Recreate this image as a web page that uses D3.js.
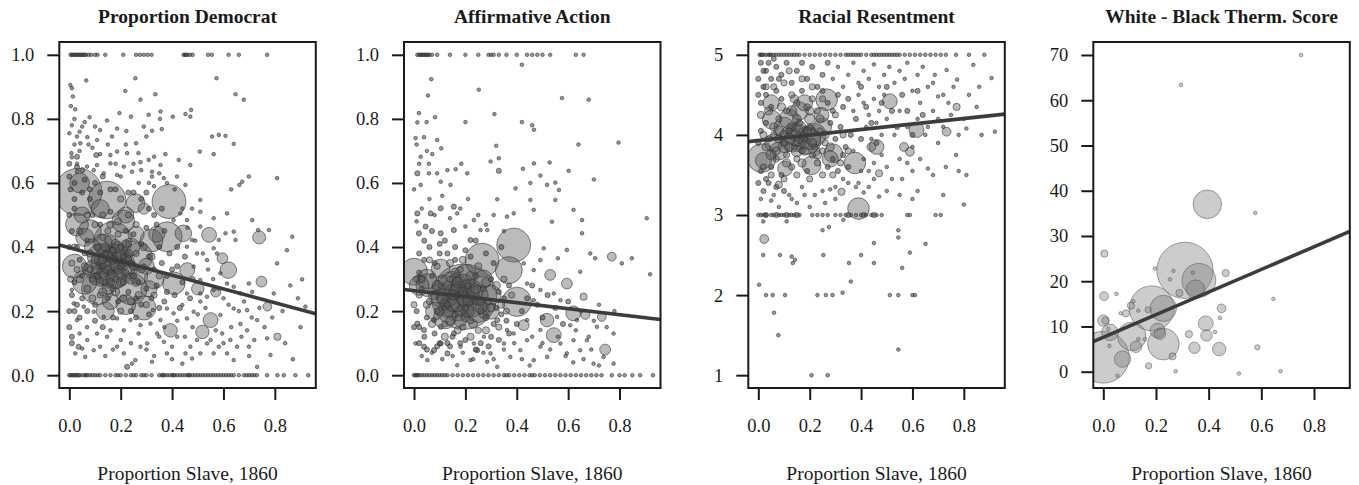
<!DOCTYPE html>
<html><head><meta charset="utf-8">
<script src="https://cdn.jsdelivr.net/npm/d3@7"></script>
<style>
html,body{margin:0;padding:0;background:#fff;}
svg{display:block;}
text{font-family:"Liberation Serif","Times New Roman",serif;fill:#1a1a1a;}
</style></head>
<body>
<script>
// ---------------- DATA ----------------
const titles = ["Proportion Democrat", "Affirmative Action", "Racial Resentment", "White - Black Therm. Score"];
const xLabel = "Proportion Slave, 1860";
const xTicks = [0, 0.2, 0.4, 0.6, 0.8];
const yTicksDem = [0, 0.2, 0.4, 0.6, 0.8, 1.0];
const yTicksAA = [0, 0.2, 0.4, 0.6, 0.8, 1.0];
const yTicksRR = [1, 2, 3, 4, 5];
const yTicksTherm = [0, 10, 20, 30, 40, 50, 60, 70];
// fitted lines [intercept, slope]
const fitDem = [0.398, -0.215];
const fitAA = [0.264, -0.094];
const fitRR = [3.93, 0.343];
const fitTherm = [7.6, 25.0];

// Proportion Democrat: counties at exactly 1 and 0 (x values), then [x, y, weight]
const demOne = [0.005,0.01,0.015,0.02,0.025,0.03,0.035,0.04,0.045,0.05,0.055,0.06,0.065,0.075,0.085,0.10,0.11,0.14,0.21,0.26,0.275,0.29,0.305,0.32,0.445,0.45,0.455,0.46,0.47,0.48,0.54,0.555,0.62,0.66,0.77];
const demZero = [0.0,0.005,0.01,0.015,0.02,0.025,0.03,0.035,0.04,0.05,0.06,0.065,0.07,0.08,0.09,0.10,0.11,0.12,0.14,0.16,0.18,0.19,0.20,0.22,0.24,0.25,0.26,0.28,0.29,0.30,0.32,0.35,0.36,0.365,0.37,0.38,0.39,0.40,0.405,0.41,0.42,0.43,0.44,0.45,0.46,0.465,0.47,0.48,0.49,0.50,0.51,0.52,0.53,0.54,0.55,0.56,0.57,0.58,0.59,0.60,0.61,0.62,0.63,0.64,0.66,0.68,0.69,0.70,0.71,0.72,0.73,0.77,0.81,0.835,0.88,0.93];
const demPts = [
[0.035,0.572,172],[0.147,0.547,108],[0.388,0.542,88],[0.258,0.537,27],[0.29,0.52,10],
[0.17,0.42,110],[0.17,0.34,150],[0.11,0.27,80],[0.24,0.27,80],[0.29,0.21,45],[0.06,0.29,45],[0.02,0.34,45],
[0.381,0.432,69],[0.407,0.287,39],[0.32,0.42,40],[0.27,0.37,60],[0.08,0.45,40],[0.03,0.47,40],[0.21,0.48,40],
[0.12,0.37,50],[0.22,0.22,30],[0.14,0.2,25],[0.33,0.3,30],[0.459,0.328,17],[0.5,0.27,12],[0.57,0.26,8],
[0.444,0.443,21],[0.544,0.438,17],[0.739,0.43,13],[0.596,0.365,9],[0.619,0.328,21],[0.748,0.292,9],
[0.771,0.214,6],[0.81,0.12,4],[0.55,0.172,17],[0.518,0.135,14],[0.394,0.14,14],
[0.19,0.38,30],[0.14,0.31,30],[0.23,0.33,25],[0.09,0.4,20],[0.05,0.5,20],[0.26,0.44,20],[0.3,0.34,20],
[0.15,0.35,40],[0.2,0.36,35],[0.13,0.41,30],[0.18,0.3,30],[0.24,0.4,25],[0.09,0.33,25],[0.06,0.43,25],[0.27,0.31,25],
[0.31,0.27,20],[0.22,0.5,20],[0.12,0.52,25],[0.04,0.6,30],[0.16,0.23,20],[0.34,0.44,20],
[0.14,0.34,12],[0.18,0.34,12],[0.16,0.38,12],[0.2,0.32,10],[0.12,0.36,10],[0.16,0.42,10],[0.22,0.36,10],[0.1,0.3,10],
[0.15,0.27,10],[0.19,0.4,10],[0.24,0.3,8],[0.07,0.33,8],
[0.004,0.906,1],[0.01,0.896,1],[0.014,0.87,1],[0.066,0.92,1],[0.257,0.927,1],[0.573,0.927,1],[0.647,0.877,1],[0.679,0.86,1],
[0.218,0.887,1],[0.277,0.86,1],[0.335,0.877,1],[0.006,0.84,1],[0.023,0.83,1],[0.079,0.805,1],[0.195,0.818,1],[0.24,0.807,1],
[0.309,0.813,1],[0.355,0.823,1],[0.353,0.80,1],[0.403,0.807,1],[0.452,0.815,1],[0.474,0.828,1],[0.471,0.807,1],
[0.01,0.78,1],[0.05,0.776,1],[0.10,0.776,1],[0.147,0.795,1],[0.12,0.765,1],[0.186,0.77,1],[0.222,0.762,1],[0.29,0.776,1],
[0.322,0.763,1],[0.36,0.768,1],[0.0,0.755,1],[0.03,0.745,1],[0.07,0.743,1],[0.043,0.724,1],[0.075,0.72,1],[0.108,0.734,1],
[0.166,0.745,1],[0.26,0.724,1],[0.30,0.745,1],[0.556,0.745,1],[0.582,0.75,1],[0.608,0.747,1],[0.64,0.722,1],
[0.008,0.693,1],[0.03,0.682,2],[0.105,0.687,2],[0.16,0.687,1],[0.186,0.698,1],[0.225,0.693,1],[0.269,0.693,1],[0.33,0.682,1],
[0.374,0.69,1],[0.508,0.698,1],[0.562,0.69,1],[0.03,0.66,1],[0.069,0.651,1],[0.108,0.656,1],[0.16,0.661,1],[0.212,0.651,1],
[0.277,0.665,1],[0.309,0.672,1],[0.355,0.656,1],[0.426,0.672,1],[0.471,0.656,1],[0.03,0.635,1],[0.095,0.64,1],[0.134,0.63,1],
[0.186,0.625,1],[0.244,0.635,1],[0.322,0.635,1],[0.322,0.62,1],[0.368,0.615,1],[0.419,0.62,1],[0.699,0.62,1],[0.673,0.604,1],
[0.809,0.615,1],[0.662,0.594,1],[0.63,0.58,1],[0.452,0.594,1],[0.51,0.547,1],[0.478,0.52,1],[0.51,0.51,1],[0.712,0.484,1],
[0.735,0.453,1],[0.777,0.453,1],[0.868,0.432,1],[0.847,0.39,1],[0.809,0.349,1],[0.906,0.299,1],[0.919,0.214,1],[0.796,0.255,1],
[0.699,0.286,1],[0.712,0.26,1],[0.64,0.448,1],[0.647,0.422,1],[0.582,0.422,1],[0.562,0.396,1],[0.608,0.443,1],
[0.01,0.1,2],[0.036,0.089,2],[0.05,0.083,1],[0.023,0.068,1],[0.062,0.057,1],[0.095,0.078,1],[0.12,0.089,1],[0.108,0.13,1],
[0.147,0.12,1],[0.16,0.14,1],[0.069,0.15,1],[0.03,0.172,1],[0.186,0.089,1],[0.212,0.068,1],[0.225,0.026,2],[0.244,0.036,1],
[0.257,0.047,1],[0.277,0.089,1],[0.303,0.099,1],[0.322,0.042,1],[0.342,0.13,1],[0.368,0.104,1],[0.38,0.068,1],[0.4,0.089,1],
[0.42,0.12,1],[0.44,0.036,1],[0.452,0.068,1],[0.471,0.089,1],[0.478,0.052,1],[0.497,0.11,1],[0.51,0.068,1],[0.536,0.099,1],
[0.562,0.068,1],[0.582,0.089,1],[0.595,0.13,1],[0.614,0.068,1],[0.627,0.11,1],[0.64,0.047,1],[0.653,0.089,1],[0.666,0.16,1],
[0.692,0.14,1],[0.699,0.089,1],[0.731,0.026,1],[0.731,0.172,1],[0.77,0.115,1],[0.783,0.063,1],[0.692,0.203,1],[0.64,0.208,1],
[0.588,0.188,1],[0.51,0.23,1],[0.484,0.198,1],[0.458,0.177,1],[0.44,0.219,1],[0.406,0.193,1],[0.38,0.208,1],[0.355,0.172,1],
[0.325,0.203,1],[0.316,0.161,1],[0.277,0.156,1],[0.238,0.172,1],[0.212,0.14,1],[0.186,0.177,1],[0.134,0.182,1],[0.095,0.198,1],
[0.056,0.214,1],[0.017,0.224,1],[0.01,0.266,1],[0.562,0.266,1],[0.51,0.255,1],[0.536,0.245,1],[0.458,0.255,1],[0.614,0.286,1],
[0.64,0.276,1],[0.666,0.255,1],[0.588,0.318,1],[0.51,0.297,1],[0.484,0.339,1],[0.536,0.359,1],[0.575,0.38,1],[0.497,0.38,1],
[0.458,0.401,1],[0.478,0.422,1],[0.51,0.464,1],[0.562,0.49,1],[0.614,0.505,1],[0.458,0.484,1],[0.432,0.505,1],[0.406,0.484,1],
[0.0,0.5,2],[0.01,0.45,2],[0.02,0.52,2],[0.03,0.4,2],[0.04,0.36,2],[0.05,0.31,2],[0.01,0.25,2],[0.02,0.29,2],[0.03,0.22,2],
[0.05,0.24,2],[0.06,0.38,2],[0.07,0.42,2],[0.08,0.33,3],[0.09,0.3,3],[0.09,0.5,2],[0.1,0.22,2],[0.11,0.4,3],[0.11,0.31,3],
[0.12,0.25,3],[0.12,0.47,2],[0.13,0.34,3],[0.13,0.43,3],[0.14,0.29,3],[0.14,0.38,3],[0.15,0.24,2],[0.15,0.45,3],[0.16,0.32,3],
[0.16,0.51,2],[0.17,0.27,3],[0.17,0.39,3],[0.18,0.36,3],[0.18,0.3,3],[0.19,0.44,3],[0.19,0.23,2],[0.2,0.34,3],[0.2,0.4,3],
[0.21,0.29,3],[0.21,0.37,3],[0.22,0.32,3],[0.22,0.45,2],[0.23,0.26,2],[0.23,0.41,3],[0.24,0.35,3],[0.24,0.2,2],[0.25,0.31,3],
[0.25,0.44,2],[0.26,0.24,2],[0.26,0.38,3],[0.27,0.29,2],[0.28,0.41,2],[0.28,0.22,2],[0.29,0.34,2],[0.3,0.27,2],[0.3,0.46,2],
[0.31,0.37,2],[0.32,0.24,2],[0.33,0.33,2],[0.33,0.5,2],[0.34,0.28,2],[0.35,0.4,2],[0.36,0.35,2],[0.37,0.23,2],[0.38,0.31,2],
[0.39,0.38,2],[0.41,0.25,2],[0.42,0.34,2],[0.43,0.21,2],[0.44,0.29,2],[0.45,0.37,2],[0.47,0.24,2],[0.48,0.3,2],[0.02,0.6,2],
[0.05,0.64,2],[0.08,0.58,2],[0.1,0.6,2],[0.13,0.62,2],[0.18,0.58,2],[0.2,0.62,1],[0.23,0.57,2],[0.27,0.6,1],[0.3,0.57,2],
[0.33,0.59,1],[0.36,0.52,2],[0.01,0.68,1],[0.02,0.72,1],[0.04,0.7,1],
[0.11,0.33,6],[0.13,0.36,6],[0.15,0.33,6],[0.17,0.36,6],[0.19,0.33,6],[0.21,0.35,6],[0.14,0.4,6],[0.18,0.41,6],[0.16,0.29,5],
[0.2,0.29,5],[0.12,0.29,5],[0.23,0.38,5],[0.1,0.36,5],[0.08,0.38,4],[0.15,0.37,8],[0.19,0.37,8],[0.17,0.31,8],[0.13,0.32,8],
[0.22,0.41,5],[0.25,0.34,5],[0.26,0.29,5],[0.28,0.33,4],[0.06,0.34,4],[0.04,0.3,4],[0.07,0.27,4],[0.09,0.24,4],[0.13,0.26,5],
[0.18,0.26,5],[0.21,0.24,4],[0.24,0.23,4],[0.27,0.25,4],[0.3,0.22,3],[0.33,0.25,3],[0.35,0.31,3],[0.32,0.37,4],[0.29,0.4,4],
[0.26,0.47,3],[0.23,0.5,3],[0.19,0.48,4],[0.16,0.47,4],[0.13,0.5,3],[0.1,0.47,3],[0.07,0.5,3],[0.04,0.45,3],[0.02,0.4,3],
[0.01,0.35,3],[0.03,0.33,3],[0.005,0.3,3],[0.02,0.2,2],[0.04,0.18,2],[0.07,0.2,2],[0.1,0.17,2],[0.13,0.15,2],[0.17,0.18,2],
[0.2,0.2,3],[0.26,0.18,2],[0.31,0.19,2],[0.35,0.21,2],[0.38,0.26,2],[0.4,0.33,2],[0.42,0.4,2],[0.37,0.45,2],[0.34,0.47,2],
[0.31,0.52,2],[0.28,0.55,2],[0.25,0.57,2],[0.2,0.55,3],[0.16,0.58,2],[0.12,0.57,2],[0.08,0.55,2],[0.05,0.57,2],[0.02,0.55,2],
[0.0,0.62,2],[0.03,0.65,2],[0.06,0.61,2],[0.0,0.4,2],[0.0,0.2,2],[0.0,0.15,2],[0.01,0.12,2],[0.005,0.58,2],[0.0,0.66,2],
[0.02,0.8,1],[0.04,0.76,1],[0.06,0.79,1],[0.09,0.71,1],[0.12,0.69,1],[0.15,0.72,1],[0.18,0.66,1],[0.22,0.72,1],[0.25,0.66,1],
[0.28,0.64,1],[0.31,0.6,1],[0.35,0.63,1],[0.38,0.6,1],[0.41,0.58,1],[0.44,0.52,1],[0.46,0.46,1],[0.49,0.42,1],[0.52,0.38,1],
[0.54,0.33,1],[0.56,0.3,1],[0.58,0.27,1],[0.6,0.24,1],[0.62,0.22,1],[0.66,0.2,1],[0.68,0.23,1],[0.71,0.18,1],[0.74,0.21,1],
[0.76,0.15,1],[0.79,0.18,1],[0.83,0.2,1],[0.86,0.28,1],[0.89,0.24,1],[0.84,0.1,1],[0.87,0.05,1],[0.9,0.15,1],[0.45,0.12,1],
[0.48,0.15,1],[0.5,0.19,1],[0.53,0.21,1],[0.55,0.11,1],[0.57,0.14,1],[0.6,0.1,1],[0.63,0.15,1],[0.67,0.12,1],[0.7,0.06,1],
[0.72,0.11,1],[0.3,0.08,1],[0.33,0.06,1],[0.35,0.12,1],[0.37,0.15,1],[0.4,0.05,1],[0.42,0.17,1],[0.27,0.13,1],[0.24,0.1,1],
[0.2,0.11,1],[0.17,0.08,1],[0.14,0.06,1],[0.07,0.11,1],[0.04,0.13,1]
];

// Affirmative Action
const aaOne = [0.013,0.02,0.025,0.03,0.035,0.04,0.045,0.05,0.055,0.06,0.07,0.09,0.14,0.2,0.25,0.29,0.3,0.31,0.33,0.36,0.4,0.44,0.46,0.48,0.5,0.53,0.63,0.66];
const aaZero = [0.0,0.005,0.01,0.015,0.02,0.03,0.04,0.05,0.06,0.07,0.08,0.09,0.10,0.11,0.12,0.13,0.15,0.17,0.19,0.21,0.23,0.25,0.27,0.29,0.31,0.33,0.35,0.36,0.37,0.39,0.41,0.43,0.45,0.46,0.47,0.49,0.51,0.53,0.55,0.57,0.59,0.61,0.63,0.65,0.67,0.69,0.71,0.73,0.77,0.8,0.82,0.85,0.88,0.93];
const aaPts = [
[0.194,0.245,330],[0.0,0.323,56],[0.388,0.406,88],[0.265,0.359,88],[0.369,0.328,56],[0.40,0.229,66],[0.052,0.281,40],[0.104,0.333,27],
[0.427,0.156,9],[0.53,0.313,9],[0.595,0.286,9],[0.62,0.193,17],[0.667,0.188,6],[0.518,0.172,14],[0.544,0.125,17],[0.744,0.08,9],
[0.77,0.37,6],[0.731,0.182,6],[0.66,0.245,4],
[0.1,0.25,40],[0.15,0.28,60],[0.22,0.26,50],[0.25,0.2,40],[0.12,0.18,40],[0.2,0.31,40],[0.3,0.25,30],[0.05,0.3,30],[0.17,0.22,80],
[0.16,0.24,60],[0.22,0.22,50],[0.13,0.25,40],[0.19,0.28,40],[0.25,0.25,30],[0.08,0.2,25],[0.3,0.2,20],[0.02,0.28,30],[0.27,0.3,25],
[0.15,0.22,15],[0.19,0.24,15],[0.17,0.27,15],[0.21,0.2,12],[0.13,0.2,12],[0.23,0.26,12],[0.18,0.17,12],[0.11,0.24,10],[0.26,0.21,10],
[0.16,0.3,10],[0.2,0.28,10],[0.09,0.28,8],
[0.42,0.969,1],[0.067,0.924,1],[0.252,0.891,1],[0.054,0.873,1],[0.576,0.865,1],[0.68,0.86,1],[0.019,0.818,1],[0.313,0.815,1],
[0.013,0.789,1],[0.049,0.79,1],[0.082,0.805,1],[0.2,0.79,1],[0.42,0.79,1],[0.46,0.78,1],[0.467,0.766,1],[0.006,0.74,1],[0.039,0.743,1],
[0.09,0.734,1],[0.106,0.708,1],[0.32,0.716,1],[0.64,0.72,1],[0.796,0.726,1],[0.026,0.682,1],[0.071,0.69,1],[0.058,0.66,1],[0.13,0.64,1],
[0.162,0.643,1],[0.184,0.66,1],[0.298,0.667,1],[0.33,0.677,1],[0.33,0.638,2],[0.424,0.644,1],[0.467,0.661,1],[0.528,0.664,1],[0.602,0.638,1],
[0.013,0.63,2],[0.058,0.63,1],[0.09,0.63,1],[0.207,0.63,1],[0.492,0.623,1],[0.7,0.611,1],[0.026,0.594,1],[0.104,0.604,1],[0.142,0.594,1],
[0.453,0.6,1],[0.518,0.594,1],[0.55,0.601,1],[0.564,0.578,1],[0.395,0.583,1],[0.324,0.549,1],[0.453,0.547,1],[0.466,0.516,1],[0.55,0.547,1],
[0.621,0.516,1],[0.537,0.479,1],[0.654,0.484,1],[0.906,0.49,1],[0.654,0.443,1],[0.505,0.396,1],[0.595,0.391,1],[0.56,0.365,1],[0.686,0.38,1],
[0.705,0.365,1],[0.809,0.349,1],[0.848,0.365,1],[0.919,0.315,1],[0.647,0.323,1],[0.013,0.505,2],[0.065,0.505,2],[0.104,0.521,2],[0.155,0.526,2],
[0.168,0.505,1],[0.019,0.443,2],[0.045,0.464,2],[0.104,0.443,2],[0.155,0.453,2],[0.2,0.464,1],[0.233,0.484,1],[0.259,0.453,1],[0.285,0.453,1],
[0.22,0.422,2],[0.362,0.495,1],[0.388,0.505,1],
[0.006,0.099,1],[0.039,0.089,2],[0.078,0.078,2],[0.104,0.099,2],[0.13,0.068,2],[0.052,0.047,1],[0.155,0.13,2],[0.181,0.089,1],[0.22,0.047,1],
[0.246,0.078,2],[0.272,0.12,1],[0.298,0.068,1],[0.324,0.026,1],[0.35,0.099,1],[0.375,0.057,1],[0.388,0.13,1],[0.414,0.078,1],[0.44,0.109,1],
[0.466,0.047,1],[0.492,0.089,1],[0.518,0.057,1],[0.57,0.099,1],[0.595,0.068,1],[0.621,0.109,1],[0.647,0.078,1],[0.673,0.109,1],[0.699,0.036,1],
[0.712,0.151,1],[0.738,0.057,1],[0.777,0.036,1],[0.777,0.13,1],[0.013,0.161,2],[0.039,0.141,2],[0.078,0.172,2],[0.104,0.151,2],[0.324,0.172,2],
[0.362,0.141,1],[0.44,0.172,1],[0.492,0.141,1],[0.557,0.182,1],[0.608,0.156,1],[0.634,0.172,1],[0.466,0.234,1],[0.492,0.266,1],[0.544,0.255,1],
[0.57,0.234,1],[0.44,0.286,1],[0.466,0.328,1],[0.427,0.349,1],[0.492,0.359,1],[0.285,0.042,1],[0.233,0.099,1],[0.168,0.031,1],
[0.01,0.2,2],[0.02,0.15,2],[0.03,0.27,2],[0.04,0.36,2],[0.05,0.18,2],[0.06,0.23,3],[0.07,0.31,2],[0.08,0.13,2],[0.09,0.2,3],[0.1,0.38,2],
[0.11,0.26,3],[0.12,0.16,3],[0.13,0.22,3],[0.14,0.3,3],[0.15,0.12,2],[0.16,0.19,3],[0.17,0.25,3],[0.18,0.33,3],[0.19,0.15,3],[0.2,0.21,3],
[0.21,0.28,3],[0.22,0.17,3],[0.23,0.24,3],[0.24,0.31,3],[0.25,0.14,3],[0.26,0.2,3],[0.27,0.27,3],[0.28,0.18,3],[0.29,0.23,3],[0.3,0.3,2],
[0.31,0.16,2],[0.32,0.21,2],[0.33,0.26,2],[0.34,0.19,2],[0.35,0.24,2],[0.36,0.17,2],[0.37,0.28,2],[0.02,0.32,2],[0.04,0.12,2],[0.06,0.4,2],
[0.08,0.35,2],[0.12,0.42,2],[0.14,0.09,2],[0.2,0.11,2],[0.26,0.1,2],[0.3,0.12,2],[0.22,0.37,2],[0.16,0.36,2],[0.1,0.1,2],[0.03,0.06,1],
[0.07,0.07,1],[0.11,0.05,1],[0.15,0.06,1],[0.19,0.07,1],[0.23,0.05,1],[0.27,0.07,1],[0.31,0.05,1],[0.35,0.08,1],[0.39,0.1,1],
[0.12,0.22,8],[0.15,0.25,8],[0.18,0.2,8],[0.21,0.23,8],[0.24,0.27,8],[0.17,0.29,8],[0.13,0.28,6],[0.2,0.18,6],[0.23,0.16,6],[0.26,0.23,6],
[0.28,0.29,6],[0.1,0.2,6],[0.08,0.25,6],[0.14,0.17,6],[0.19,0.26,6],[0.22,0.31,6],[0.16,0.32,6],[0.11,0.3,5],[0.27,0.19,5],[0.3,0.21,5],
[0.32,0.28,5],[0.34,0.22,4],[0.05,0.22,4],[0.03,0.3,4],[0.07,0.16,4],[0.12,0.12,4],[0.17,0.14,4],[0.22,0.12,4],[0.28,0.14,4],[0.33,0.15,3],
[0.36,0.2,3],[0.38,0.25,3],[0.35,0.3,3],[0.25,0.34,4],[0.19,0.36,4],[0.14,0.35,4],[0.09,0.34,3],[0.06,0.36,3],[0.02,0.25,3],[0.01,0.3,3],
[0.0,0.22,3],[0.0,0.15,2],[0.02,0.1,2],[0.05,0.08,2],[0.09,0.09,2],[0.13,0.1,2],[0.18,0.1,2],[0.24,0.08,2],[0.29,0.09,2],[0.33,0.11,2],
[0.37,0.13,2],[0.4,0.16,2],[0.42,0.2,2],[0.44,0.24,2],[0.46,0.28,2],[0.48,0.22,2],[0.5,0.18,2],[0.52,0.25,2],[0.55,0.21,2],[0.58,0.16,2],
[0.6,0.23,2],[0.63,0.14,1],[0.65,0.2,1],[0.68,0.12,1],[0.7,0.17,1],[0.72,0.22,1],[0.75,0.15,1],[0.78,0.2,1],[0.46,0.12,1],[0.5,0.1,1],
[0.53,0.08,1],[0.56,0.12,1],[0.59,0.06,1],[0.62,0.04,1],[0.66,0.05,1],[0.69,0.08,1],[0.72,0.03,1],[0.42,0.05,1],[0.45,0.03,1],[0.02,0.38,2],
[0.04,0.42,2],[0.07,0.45,2],[0.1,0.41,2],[0.13,0.38,2],[0.16,0.4,2],[0.2,0.39,2],[0.24,0.42,2],[0.28,0.38,2],[0.31,0.35,2],[0.34,0.4,2],
[0.01,0.48,1],[0.03,0.52,1],[0.06,0.55,1],[0.08,0.5,1],[0.11,0.56,1],[0.14,0.49,1],[0.18,0.52,1],[0.21,0.55,1],[0.25,0.5,1],[0.28,0.47,1],
[0.31,0.5,1],[0.35,0.45,1],[0.0,0.58,1],[0.02,0.66,1],[0.05,0.7,1],[0.01,0.72,1]
];

// Racial Resentment
const rrFive = [0.005,0.01,0.015,0.02,0.03,0.04,0.045,0.05,0.06,0.07,0.08,0.09,0.1,0.11,0.12,0.13,0.14,0.15,0.16,0.18,0.2,0.22,0.24,0.26,0.28,0.3,0.32,0.34,0.35,0.36,0.37,0.38,0.39,0.4,0.42,0.44,0.45,0.46,0.47,0.48,0.49,0.5,0.51,0.52,0.53,0.54,0.55,0.57,0.59,0.61,0.63,0.65,0.67,0.69,0.71,0.73,0.77,0.82,0.88];
const rrThree = [0.0,0.01,0.02,0.03,0.05,0.06,0.08,0.09,0.1,0.12,0.13,0.14,0.16,0.21,0.23,0.25,0.27,0.3,0.32,0.34,0.36,0.38,0.4,0.42,0.44,0.46,0.48,0.58,0.59,0.69,0.71];
const rrTwo = [0.03,0.056,0.104,0.23,0.263,0.289,0.512,0.545,0.6,0.61];
const rrPts = [
[0.013,3.71,63],[0.02,3.68,20],[0.376,3.65,36],[0.39,3.08,36],[0.104,3.58,17],[0.207,3.62,27],[0.246,4.25,17],[0.136,3.96,60],[0.19,3.93,60],
[0.46,3.85,17],[0.266,4.44,36],[0.512,4.42,17],[0.616,4.06,17],[0.733,4.04,6],[0.772,4.35,4],[0.59,3.79,6],[0.567,3.85,6],[0.052,4.19,27],
[0.292,3.77,27],[0.47,3.52,4],[0.324,3.29,4],[0.08,3.38,4],[0.44,3.85,6],[0.023,2.7,6],[0.1,4.1,30],[0.22,4.0,40],[0.16,4.3,25],[0.06,3.9,25],
[0.15,4.0,40],[0.2,3.95,35],[0.12,4.2,30],[0.25,4.1,25],[0.08,3.8,25],[0.18,4.4,20],[0.28,3.7,20],[0.05,4.4,20],
[0.14,4.0,12],[0.18,3.9,12],[0.16,4.1,12],[0.12,3.95,10],[0.2,4.05,10],[0.1,3.85,10],[0.15,3.8,10],[0.22,3.8,8],[0.08,4.05,8],
[0.05,3.75,8],[0.13,4.3,8],[0.2,4.2,8],
[0.003,2.13,1],[0.061,1.78,1],[0.078,1.5,1],[0.207,1.0,1],[0.27,1.0,1],[0.545,1.32,1],[0.328,2.03,1],[0.36,2.17,1],[0.56,2.34,1],[0.45,2.4,1],
[0.353,2.4,1],[0.4,2.5,1],[0.253,2.5,1],[0.084,2.5,1],[0.019,2.5,1],[0.13,2.48,1],[0.143,2.44,1],[0.134,2.4,1],[0.59,2.53,1],[0.651,2.64,1],
[0.45,2.65,1],[0.545,2.72,1],[0.545,2.81,1],[0.25,2.81,1],[0.275,2.85,1],[0.019,2.92,1],[0.11,2.92,1],[0.331,2.94,1],
[0.8,3.13,1],[0.72,3.25,1],[0.6,3.2,1],[0.55,3.25,1],[0.5,3.3,1],[0.47,3.23,1],[0.41,3.28,1],[0.35,3.4,1],[0.3,3.2,1],[0.26,3.15,1],
[0.2,3.1,1],[0.15,3.15,1],[0.13,3.2,1],[0.08,3.1,1],[0.05,3.18,1],[0.01,3.2,1],[0.02,3.3,2],[0.04,3.4,2],[0.07,3.35,2],[0.1,3.3,2],
[0.17,3.35,1],[0.22,3.25,1],[0.28,3.32,1],[0.33,3.45,1],[0.39,3.4,1],[0.43,3.35,1],[0.52,3.45,1],[0.62,3.3,1],[0.68,3.5,1],[0.73,3.6,1],
[0.78,3.55,1],[0.81,3.5,1],[0.77,3.75,1],[0.66,3.58,1],[0.58,3.65,1],[0.56,3.45,1],
[0.908,4.71,1],[0.837,4.875,1],[0.81,4.08,1],[0.869,4.0,1],[0.921,4.04,1],[0.85,4.35,1],[0.774,4.69,1],[0.733,4.81,1],[0.687,4.75,1],
[0.7,4.48,1],[0.66,4.6,1],[0.63,4.4,1],[0.6,4.55,1],[0.57,4.7,1],[0.55,4.3,1],[0.62,4.2,1],[0.68,4.3,1],[0.72,4.1,1],[0.65,4.0,1],
[0.58,4.1,1],[0.53,4.0,1],[0.5,4.2,1],[0.6,3.85,1],[0.7,3.9,1],[0.75,4.25,1],[0.8,4.2,1],
[0.01,4.9,2],[0.03,4.8,2],[0.05,4.7,2],[0.02,4.6,2],[0.07,4.85,2],[0.09,4.75,2],[0.11,4.9,2],[0.13,4.65,2],[0.15,4.8,2],[0.17,4.9,2],
[0.19,4.7,2],[0.21,4.85,2],[0.23,4.6,2],[0.25,4.75,2],[0.27,4.9,2],[0.29,4.7,1],[0.31,4.85,1],[0.33,4.6,1],[0.35,4.75,1],[0.37,4.9,1],
[0.39,4.65,1],[0.41,4.8,1],[0.43,4.7,1],[0.45,4.88,1],[0.47,4.6,1],[0.49,4.75,1],[0.51,4.85,1],[0.53,4.65,1],[0.55,4.8,1],[0.58,4.9,1],
[0.62,4.75,1],[0.64,4.85,1],[0.01,4.4,2],[0.03,4.5,2],[0.05,4.35,2],[0.07,4.55,2],[0.09,4.45,2],[0.11,4.3,3],[0.13,4.5,3],[0.15,4.4,3],
[0.17,4.55,2],[0.19,4.35,3],[0.21,4.45,3],[0.23,4.3,3],[0.25,4.55,2],[0.27,4.4,2],[0.29,4.3,2],[0.31,4.5,2],[0.33,4.35,2],[0.35,4.45,2],
[0.37,4.3,1],[0.39,4.5,1],[0.41,4.4,1],[0.43,4.25,1],[0.45,4.45,1],[0.47,4.3,1],[0.49,4.5,1],[0.01,4.05,2],[0.03,4.15,2],[0.04,3.95,3],
[0.06,4.0,3],[0.08,4.2,3],[0.1,3.9,3],[0.12,4.05,3],[0.14,3.85,3],[0.16,4.15,3],[0.18,3.95,3],[0.2,4.1,3],[0.22,3.85,3],[0.24,4.05,3],
[0.26,3.9,3],[0.28,4.15,2],[0.3,3.95,2],[0.32,4.1,2],[0.34,3.85,2],[0.36,4.0,2],[0.38,4.2,2],[0.4,3.95,2],[0.42,4.1,1],[0.44,3.95,1],
[0.46,4.15,1],[0.48,4.0,1],[0.01,3.55,2],[0.03,3.45,2],[0.05,3.6,2],[0.07,3.7,3],[0.09,3.5,2],[0.11,3.75,3],[0.13,3.6,3],[0.15,3.7,3],
[0.17,3.8,3],[0.19,3.55,2],[0.21,3.75,3],[0.23,3.65,3],[0.25,3.8,3],[0.27,3.6,2],[0.29,3.7,2],[0.31,3.55,2],[0.33,3.75,2],[0.35,3.6,2],
[0.37,3.8,1],[0.41,3.7,1],[0.43,3.55,1],[0.45,3.65,1],[0.48,3.75,1],
[0.1,4.0,6],[0.13,4.1,6],[0.16,3.95,6],[0.19,4.05,6],[0.12,3.85,6],[0.15,4.2,6],[0.18,3.8,6],[0.21,3.9,6],[0.08,3.95,5],[0.06,4.1,5],
[0.04,4.3,5],[0.09,4.35,5],[0.14,4.45,5],[0.2,4.3,5],[0.24,4.2,5],[0.26,4.0,5],[0.28,3.85,5],[0.23,3.75,5],[0.17,3.65,5],[0.11,3.65,5],
[0.07,3.8,5],[0.03,3.85,5],[0.02,4.0,4],[0.01,4.25,4],[0.03,4.6,3],[0.06,4.6,3],[0.1,4.65,3],[0.12,4.8,3],[0.17,4.7,3],[0.21,4.6,3],
[0.25,4.45,3],[0.3,4.25,3],[0.33,4.0,3],[0.35,3.8,3],[0.32,3.65,3],[0.29,3.5,3],[0.25,3.5,3],[0.2,3.45,3],[0.15,3.5,3],[0.1,3.45,3],
[0.05,3.5,3],[0.02,3.6,3],[0.0,3.4,2],[0.0,3.9,2],[0.0,4.5,2],[0.0,4.7,2],[0.02,4.8,2],[0.04,4.9,2],[0.06,4.95,2],[0.08,4.7,2],
[0.4,4.6,2],[0.42,4.35,2],[0.44,4.15,2],[0.46,3.9,2],[0.48,4.4,2],[0.5,4.6,2],[0.52,4.3,2],[0.54,4.1,2],[0.56,4.5,2],[0.58,4.3,2],
[0.6,4.0,2],[0.62,4.55,2],[0.64,4.25,2],[0.66,4.1,1],[0.68,4.65,1],[0.7,4.2,1],[0.72,4.5,1],[0.74,4.4,1],[0.76,4.6,1],[0.78,4.0,1],
[0.82,4.5,1],[0.86,4.6,1],[0.55,3.7,1],[0.6,3.55,1],[0.63,3.7,1],[0.5,3.6,1],[0.45,3.45,1],[0.4,3.55,1],[0.38,3.35,1],[0.3,3.35,1],
[0.25,3.3,1],[0.18,3.25,1],[0.12,3.25,1],[0.06,3.25,1],[0.15,3.0,2],[0.03,3.0,2],[0.07,3.0,2],[0.11,3.0,2],[0.35,3.0,2],[0.45,3.0,2],[0.41,3.0,2]
];

// White - Black thermometer score
const thermPts = [
[0.0,3.2,207],[0.751,70,1],[0.295,63.4,1],[0.395,37.0,63],[0.577,35.1,1],[0.004,26.1,4],[0.196,22.8,1],[0.31,22.4,244],[0.266,22.3,1],
[0.363,20.2,88],[0.465,21.8,4],[0.253,20.4,1],[0.34,21.9,1],[0.35,18.2,27],[0.289,17.4,4],[0.05,17.2,1],[0.003,16.7,6],[0.646,16.1,1],
[0.184,14.0,156],[0.228,14.0,53],[0.105,14.6,4],[0.114,15.6,1],[0.133,13.5,1],[0.17,13.7,3],[0.449,14.0,6],[0.086,12.9,4],[0.066,12.9,1],
[0.443,11.9,1],[0.0,11.3,10],[0.008,11.3,4],[0.389,10.7,17],[0.025,8.7,21],[0.108,7.8,63],[0.206,9.1,17],[0.215,8.4,10],[0.228,6.1,77],
[0.325,8.3,4],[0.392,8.0,10],[0.424,8.8,1],[0.346,5.3,10],[0.44,5.0,14],[0.585,5.4,2],[0.124,5.5,10],[0.023,5.7,1],[0.073,2.8,21],
[0.263,3.4,4],[0.172,1.3,3],[0.275,0.1,1],[0.515,-0.4,1],[0.673,0.1,1],[0.054,-0.9,1],[0.019,9.5,1],[0.133,7.2,1],[0.158,7.2,1]
];

// ---------------- LAYOUT ----------------
const W = 1359, H = 485;
const lefts = [59.3, 404, 748.3, 1093.3];
const frameW = 256.5, topY = 42, bottomY = 388;

const panels = [
  {title: titles[0], pts: [].concat(demPts, demOne.map(x=>[x,1,1]), demZero.map(x=>[x,0,1])), fit: fitDem, yTicks: yTicksDem, fmt: d3.format(".1f"), xd: [-0.039,0.9595], yd: [-0.04,1.04]},
  {title: titles[1], pts: [].concat(aaPts, aaOne.map(x=>[x,1,1]), aaZero.map(x=>[x,0,1])), fit: fitAA, yTicks: yTicksAA, fmt: d3.format(".1f"), xd: [-0.039,0.9595], yd: [-0.04,1.04]},
  {title: titles[2], pts: [].concat(rrPts, rrFive.map(x=>[x,5,1]), rrThree.map(x=>[x,3,1]), rrTwo.map(x=>[x,2,1])), fit: fitRR, yTicks: yTicksRR, fmt: d3.format("d"), xd: [-0.039,0.9595], yd: [0.84,5.16]},
  {title: titles[3], pts: thermPts, fit: fitTherm, yTicks: yTicksTherm, fmt: d3.format("d"), xd: [-0.038,0.936], yd: [-3.6,72.87]}
];

const svg = d3.select("body").append("svg").attr("width", W).attr("height", H);
const rScale = d3.scaleSqrt().domain([0, 1]).range([0, 1.8]);

panels.forEach((p, i) => {
  const L = lefts[i], R = L + frameW;
  const x = d3.scaleLinear().domain(p.xd).range([L, R]);
  const y = d3.scaleLinear().domain(p.yd).range([bottomY, topY]);
  const g = svg.append("g");
  const cid = "clip" + i;
  svg.append("clipPath").attr("id", cid).append("rect")
    .attr("x", L).attr("y", topY).attr("width", frameW).attr("height", bottomY - topY);

  const pts = p.pts.slice().sort((a, b) => b[2] - a[2]);
  const light = i === 3;
  g.append("g").attr("clip-path", `url(#${cid})`).selectAll("circle").data(pts).join("circle")
    .attr("cx", d => x(d[0])).attr("cy", d => y(d[1])).attr("r", d => rScale(d[2]))
    .attr("fill", d => light ? "rgba(120,120,120,0.38)" : (d[2] <= 2 ? "rgba(70,70,70,0.55)" : "rgba(85,85,85,0.4)"))
    .attr("stroke", light ? "rgba(90,90,90,0.55)" : "rgba(50,50,50,0.6)")
    .attr("stroke-width", 1);

  // regression line
  g.append("line").attr("clip-path", `url(#${cid})`)
    .attr("x1", x(p.xd[0])).attr("y1", y(p.fit[0] + p.fit[1] * p.xd[0]))
    .attr("x2", x(p.xd[1])).attr("y2", y(p.fit[0] + p.fit[1] * p.xd[1]))
    .attr("stroke", "#3c3c3c").attr("stroke-width", 3.6);

  // frame
  g.append("rect").attr("x", L).attr("y", topY).attr("width", frameW).attr("height", bottomY - topY)
    .attr("fill", "none").attr("stroke", "#1a1a1a").attr("stroke-width", 2);

  // x axis
  const xa = g.append("g").attr("transform", `translate(0,${bottomY})`)
    .call(d3.axisBottom(x).tickValues(xTicks).tickFormat(d3.format(".1f")).tickSize(12).tickPadding(19));
  xa.select(".domain").remove();
  xa.selectAll("line").attr("stroke", "#1a1a1a").attr("stroke-width", 2);
  xa.selectAll("text").attr("font-size", 18.5).attr("font-family", "Liberation Serif, serif").attr("fill", "#1a1a1a");

  // y axis
  const ya = g.append("g").attr("transform", `translate(${L},0)`)
    .call(d3.axisLeft(y).tickValues(p.yTicks).tickFormat(p.fmt).tickSize(12).tickPadding(13));
  ya.select(".domain").remove();
  ya.selectAll("line").attr("stroke", "#1a1a1a").attr("stroke-width", 2);
  ya.selectAll("text").attr("font-size", 18.5).attr("font-family", "Liberation Serif, serif").attr("fill", "#1a1a1a");

  // title
  g.append("text").attr("x", (L + R) / 2).attr("y", 23).attr("text-anchor", "middle")
    .attr("font-weight", "bold").attr("font-size", 19.5).text(p.title);
  // x label
  g.append("text").attr("x", (L + R) / 2).attr("y", 480).attr("text-anchor", "middle")
    .attr("font-size", 19.5).text(xLabel);
});
</script>
</body></html>
